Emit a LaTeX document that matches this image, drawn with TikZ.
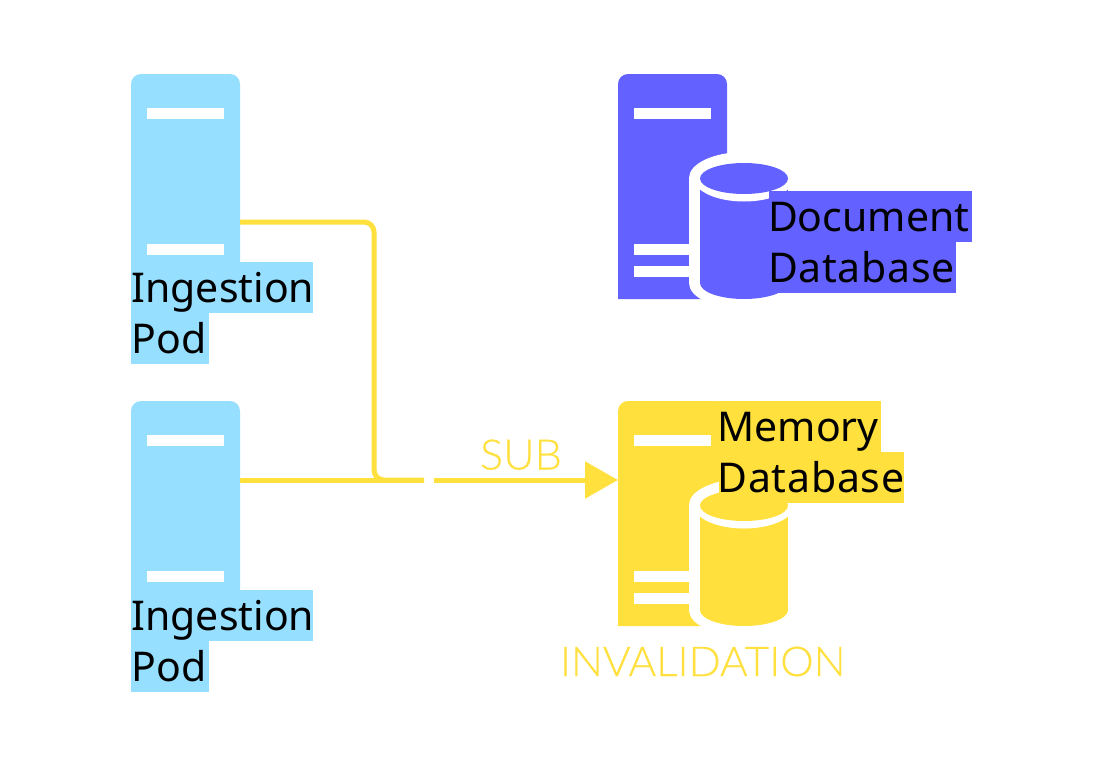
\documentclass[tikz,border=0pt]{standalone}
\usepackage{fontspec}
\setmainfont{Noto Sans}
\newfontfamily\lightfont[FakeStretch=1.03,FakeBold=0.25]{Lato Light}
\newfontfamily\spreadfont[LetterSpace=1.8]{Noto Sans}
\usetikzlibrary{arrows.meta}
\definecolor{podblue}{HTML}{96DFFF}
\definecolor{docviolet}{HTML}{6361FF}
\definecolor{memyellow}{HTML}{FFE03D}
\tikzset{
  boxanchor/.style={minimum width=109pt,minimum height=225pt,inner sep=0pt,outer sep=0pt,anchor=north west},
  wire/.style={draw=memyellow,line width=5pt},
  tag/.style={anchor=north west,inner sep=0pt,outer sep=0pt,text width=#1,text height=40pt,text depth=11pt,align=left,font=\fontsize{41}{50}\selectfont,text=black},
  note/.style={anchor=base west,inner sep=0pt,outer sep=0pt,text=memyellow,font=\fontsize{42}{50}\lightfont},
  gapend/.style={inner sep=0pt,outer sep=0pt}
}
\newcommand{\serverbody}[3]{%
  \fill[#1] (#2,#3+225) -- (#2,#3+10) .. controls (#2,#3+4.5) and (#2+4.5,#3) .. (#2+10,#3) -- (#2+99,#3) .. controls (#2+104.5,#3) and (#2+109,#3+4.5) .. (#2+109,#3+10) -- (#2+109,#3+225) -- cycle;
  \fill[white] (#2+16,#3+33.5) rectangle (#2+93,#3+44.5);
}
\newcommand{\dbcyl}[2]{%
  \begin{scope}[shift={(0,#2)}]
    \fill[white] (634,244) rectangle (700,255);
    \fill[white] (634,266) rectangle (700,277);
    \begin{scope}
      \clip (600,140) rectangle (800,299);
      \fill[white] (689,178) rectangle (799,283);
      \fill[white] (744,178) ellipse[x radius=55,y radius=26];
      \fill[white] (744,283) ellipse[x radius=55,y radius=26];
    \end{scope}
    \fill[#1] (700,178) rectangle (788,283);
    \fill[#1] (744,283) ellipse[x radius=44,y radius=16];
    \fill[white] (744,178.5) ellipse[x radius=50,y radius=23];
    \fill[#1] (744,178.5) ellipse[x radius=44,y radius=15.5];
  \end{scope}
}
\begin{document}
\begin{tikzpicture}[x=1pt,y=-1pt]
  \useasboundingbox (0,0) rectangle (1104,774);
  \fill[white] (0,0) rectangle (1104,774);
  % servers
  \node[boxanchor] (pod1) at (131,74) {};
  \node[boxanchor] (pod2) at (131,401) {};
  \node[boxanchor] (docsrv) at (618,74) {};
  \node[boxanchor] (memsrv) at (618,401) {};
  \serverbody{podblue}{131}{74}
  \fill[white] (147,244) rectangle (224,255);
  \serverbody{podblue}{131}{401}
  \fill[white] (147,571) rectangle (224,582);
  \serverbody{docviolet}{618}{74}
  \serverbody{memyellow}{618}{401}
  \dbcyl{docviolet}{0}
  \dbcyl{memyellow}{327}
  % connectors
  \node[gapend] (gapL) at (424,480) {};
  \node[gapend] (gapR) at (434,480) {};
  \draw[wire] ([yshift=33.5pt]pod2.east) -- (gapL.center);
  \draw[wire,rounded corners=10pt] ([yshift=-35.5pt]pod1.east) -| (374,480) -- (gapL.center);
  \draw[wire,-{Triangle[length=33pt,width=36pt]}] (gapR.center) -- ([yshift=33.5pt]memsrv.west);
  % labels
  \node[tag=182pt,fill=podblue] (l1a) at (131,262) {\hspace*{0.5pt}\mbox{Ingestion}};
  \node[tag=78pt,fill=podblue] (l1b) at (131,313) {\hspace*{0.5pt}\mbox{Pod}};
  \node[tag=182pt,fill=podblue] (l2a) at (131,590) {\hspace*{0.5pt}\mbox{Ingestion}};
  \node[tag=78pt,fill=podblue] (l2b) at (131,641) {\hspace*{0.5pt}\mbox{Pod}};
  \node[tag=203pt,fill=docviolet] (l3a) at (769,191) {\hspace*{-1pt}\mbox{Document}};
  \node[tag=187pt,fill=docviolet] (l3b) at (769,242) {\hspace*{-1pt}\mbox{\spreadfont Database}};
  \node[tag=162pt,fill=memyellow] (l4a) at (719,401) {\hspace*{-1.5pt}\mbox{Memory}};
  \node[tag=185pt,fill=memyellow] (l4b) at (719,452) {\hspace*{-1.5pt}\mbox{\spreadfont Database}};
  \node[note] (sub) at (480,469.5) {SUB};
  \node[note,font=\fontsize{41}{50}\lightfont] (inval) at (560,676) {INVALIDATION};
\end{tikzpicture}
\end{document}
